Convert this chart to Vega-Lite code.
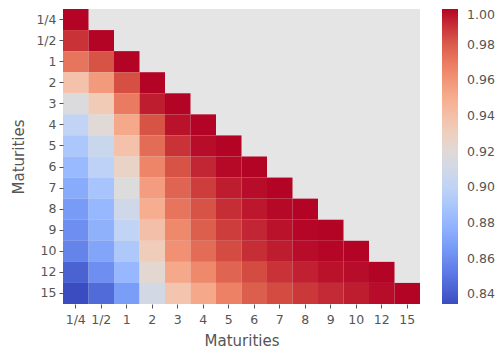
{
  "$schema": "https://vega.github.io/schema/vega-lite/v6.json",
  "width": 357,
  "height": 295,
  "autosize": {"type": "none"},
  "padding": {"left": 63, "top": 9, "right": 79, "bottom": 48},
  "background": "white",
  "config": {
    "font": "DejaVu Sans",
    "view": {"fill": "#e5e5e5", "stroke": null},
    "axis": {"labelFont": "DejaVu Sans", "titleFont": "DejaVu Sans", "labelColor": "#555555", "titleColor": "#555555", "tickColor": "#555555", "labelFontSize": 12.5, "titleFontSize": 15, "titleFontWeight": "normal", "domain": false, "grid": false, "tickSize": 4, "labelPadding": 3}
  },
  "data": {"values": [
    {"r":"1/4","c":"1/4","v":1},
    {"r":"1/2","c":"1/4","v":0.99},{"r":"1/2","c":"1/2","v":1},
    {"r":"1","c":"1/4","v":0.972},{"r":"1","c":"1/2","v":0.983},{"r":"1","c":"1","v":1},
    {"r":"2","c":"1/4","v":0.939},{"r":"2","c":"1/2","v":0.958},{"r":"2","c":"1","v":0.984},{"r":"2","c":"2","v":1},
    {"r":"3","c":"1/4","v":0.916},{"r":"3","c":"1/2","v":0.934},{"r":"3","c":"1","v":0.970},{"r":"3","c":"2","v":0.995},{"r":"3","c":"3","v":1},
    {"r":"4","c":"1/4","v":0.901},{"r":"4","c":"1/2","v":0.920},{"r":"4","c":"1","v":0.952},{"r":"4","c":"2","v":0.983},{"r":"4","c":"3","v":0.997},{"r":"4","c":"4","v":1},
    {"r":"5","c":"1/4","v":0.891},{"r":"5","c":"1/2","v":0.906},{"r":"5","c":"1","v":0.939},{"r":"5","c":"2","v":0.975},{"r":"5","c":"3","v":0.990},{"r":"5","c":"4","v":0.998},{"r":"5","c":"5","v":1},
    {"r":"6","c":"1/4","v":0.882},{"r":"6","c":"1/2","v":0.899},{"r":"6","c":"1","v":0.927},{"r":"6","c":"2","v":0.967},{"r":"6","c":"3","v":0.983},{"r":"6","c":"4","v":0.993},{"r":"6","c":"5","v":0.999},{"r":"6","c":"6","v":1},
    {"r":"7","c":"1/4","v":0.874},{"r":"7","c":"1/2","v":0.889},{"r":"7","c":"1","v":0.917},{"r":"7","c":"2","v":0.957},{"r":"7","c":"3","v":0.977},{"r":"7","c":"4","v":0.988},{"r":"7","c":"5","v":0.995},{"r":"7","c":"6","v":0.998},{"r":"7","c":"7","v":1},
    {"r":"8","c":"1/4","v":0.866},{"r":"8","c":"1/2","v":0.881},{"r":"8","c":"1","v":0.909},{"r":"8","c":"2","v":0.950},{"r":"8","c":"3","v":0.972},{"r":"8","c":"4","v":0.983},{"r":"8","c":"5","v":0.991},{"r":"8","c":"6","v":0.996},{"r":"8","c":"7","v":0.999},{"r":"8","c":"8","v":1},
    {"r":"9","c":"1/4","v":0.861},{"r":"9","c":"1/2","v":0.877},{"r":"9","c":"1","v":0.901},{"r":"9","c":"2","v":0.940},{"r":"9","c":"3","v":0.965},{"r":"9","c":"4","v":0.979},{"r":"9","c":"5","v":0.988},{"r":"9","c":"6","v":0.993},{"r":"9","c":"7","v":0.997},{"r":"9","c":"8","v":0.9995},{"r":"9","c":"9","v":1},
    {"r":"10","c":"1/4","v":0.856},{"r":"10","c":"1/2","v":0.871},{"r":"10","c":"1","v":0.892},{"r":"10","c":"2","v":0.932},{"r":"10","c":"3","v":0.962},{"r":"10","c":"4","v":0.975},{"r":"10","c":"5","v":0.985},{"r":"10","c":"6","v":0.991},{"r":"10","c":"7","v":0.995},{"r":"10","c":"8","v":0.998},{"r":"10","c":"9","v":0.9995},{"r":"10","c":"10","v":1},
    {"r":"12","c":"1/4","v":0.843},{"r":"12","c":"1/2","v":0.861},{"r":"12","c":"1","v":0.881},{"r":"12","c":"2","v":0.922},{"r":"12","c":"3","v":0.952},{"r":"12","c":"4","v":0.965},{"r":"12","c":"5","v":0.977},{"r":"12","c":"6","v":0.985},{"r":"12","c":"7","v":0.990},{"r":"12","c":"8","v":0.994},{"r":"12","c":"9","v":0.997},{"r":"12","c":"10","v":0.998},{"r":"12","c":"12","v":1},
    {"r":"15","c":"1/4","v":0.8345},{"r":"15","c":"1/2","v":0.846},{"r":"15","c":"1","v":0.867},{"r":"15","c":"2","v":0.911},{"r":"15","c":"3","v":0.937},{"r":"15","c":"4","v":0.952},{"r":"15","c":"5","v":0.968},{"r":"15","c":"6","v":0.979},{"r":"15","c":"7","v":0.985},{"r":"15","c":"8","v":0.989},{"r":"15","c":"9","v":0.992},{"r":"15","c":"10","v":0.995},{"r":"15","c":"12","v":0.998},{"r":"15","c":"15","v":1}
  ]},
  "mark": {"type": "rect"},
  "encoding": {
    "x": {"field": "c", "type": "ordinal", "sort": ["1/4","1/2","1","2","3","4","5","6","7","8","9","10","12","15"], "title": "Maturities", "axis": {"labelAngle": 0, "labelPadding": 5, "titlePadding": 8}},
    "y": {"field": "r", "type": "ordinal", "sort": ["1/4","1/2","1","2","3","4","5","6","7","8","9","10","12","15"], "title": "Maturities", "axis": {"titlePadding": 9}},
    "color": {"field": "v", "type": "quantitative", "title": null,
      "scale": {"domain": [0.8345, 1.0], "range": ["#3b4cc0","#5a78e4","#7b9ff9","#9ebeff","#c0d4f5","#dddcdc","#f2cbb7","#f7ac8e","#ee8468","#d65244","#b40426"], "interpolate": "rgb", "nice": false, "zero": false},
      "legend": {"orient": "right", "offset": 22, "padding": 0, "gradientLength": 295, "gradientThickness": 16, "gradientStrokeWidth": 0, "values": [0.84,0.86,0.88,0.9,0.92,0.94,0.96,0.98,1.0], "format": ".2f", "labelFont": "DejaVu Sans", "labelFontSize": 12.5, "labelColor": "#555555", "labelBaseline": "middle", "labelOffset": 9}
    }
  }
}
